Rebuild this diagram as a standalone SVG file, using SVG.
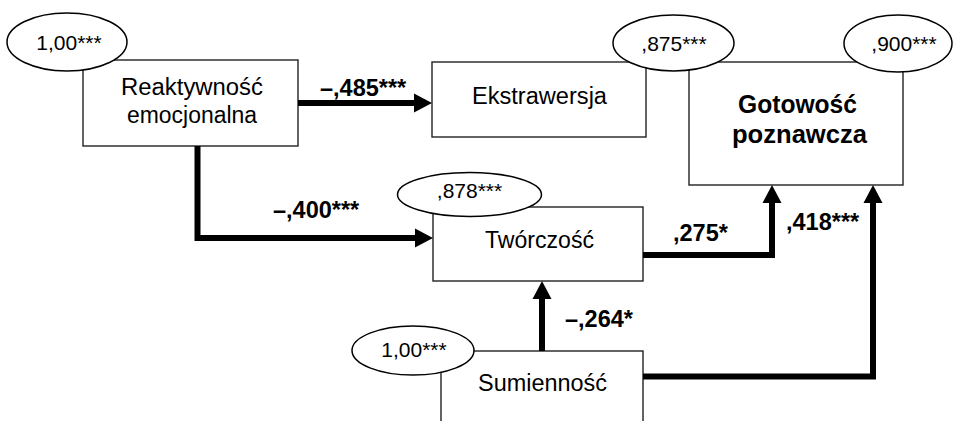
<svg xmlns="http://www.w3.org/2000/svg" width="953" height="421" viewBox="0 0 953 421">
<style>
.box{fill:#fff;stroke:#222;stroke-width:1.4}
.ell{fill:#fff;stroke:#000;stroke-width:1.5}
.t{font-family:"Liberation Sans",Arial,sans-serif;font-size:23.5px;fill:#000;text-anchor:middle}
.e{font-family:"Liberation Sans",Arial,sans-serif;font-size:21px;fill:#000;text-anchor:middle}
.b{font-family:"Liberation Sans",Arial,sans-serif;font-size:25px;font-weight:bold;fill:#000;text-anchor:middle}
.l{font-family:"Liberation Sans",Arial,sans-serif;font-size:23.5px;font-weight:bold;fill:#000}
.c{fill:none;stroke:#000;stroke-width:6;stroke-linejoin:miter}
</style>
<defs>
<marker id="ah" markerUnits="userSpaceOnUse" markerWidth="20" markerHeight="20" viewBox="0 0 18 20" refX="0" refY="10" orient="auto">
<path d="M0,0.5 L18,10 L0,19.5 Z" fill="#000"/>
</marker>
</defs>
<rect width="953" height="421" fill="#fff"/>
<g id="reaktywnosc">
<rect class="box" x="83" y="60" width="215" height="86"/>
<ellipse class="ell" cx="67" cy="42" rx="60" ry="29"/>
<text class="e" x="69" y="50">1,00***</text>
<text class="t" x="192" y="95" textLength="142" lengthAdjust="spacingAndGlyphs">Reaktywność</text>
<text class="t" x="192" y="123" textLength="130" lengthAdjust="spacingAndGlyphs">emocjonalna</text>
</g>
<g id="gotowosc">
<rect class="box" x="689" y="62" width="214" height="123"/>
<ellipse class="ell" cx="898" cy="43.5" rx="54" ry="28.5"/>
<text class="e" x="904" y="51">,900***</text>
<text class="b" x="797.5" y="113" textLength="119" lengthAdjust="spacingAndGlyphs">Gotowość</text>
<text class="b" x="799.5" y="143" textLength="135" lengthAdjust="spacingAndGlyphs">poznawcza</text>
</g>
<g id="ekstrawersja">
<rect class="box" x="432" y="62" width="214" height="75"/>
<ellipse class="ell" cx="673.5" cy="43" rx="60.5" ry="28"/>
<text class="e" x="674" y="51">,875***</text>
<text class="t" x="539.5" y="104" textLength="135" lengthAdjust="spacingAndGlyphs">Ekstrawersja</text>
</g>
<g id="tworczosc">
<rect class="box" x="433" y="207" width="210" height="74"/>
<ellipse class="ell" cx="469.5" cy="194.5" rx="72" ry="22"/>
<text class="e" x="469.5" y="198">,878***</text>
<text class="t" x="539.5" y="248" textLength="109" lengthAdjust="spacingAndGlyphs">Twórczość</text>
</g>
<g id="sumiennosc">
<rect class="box" x="441" y="351" width="202" height="100"/>
<ellipse class="ell" cx="413" cy="350.5" rx="61" ry="24.5"/>
<text class="e" x="414" y="357">1,00***</text>
<text class="t" x="542.5" y="391" textLength="129" lengthAdjust="spacingAndGlyphs">Sumienność</text>
</g>
<g id="connectors">
<path class="c" d="M298,103 H414" marker-end="url(#ah)"/>
<path class="c" d="M197.5,146 V238 H415" marker-end="url(#ah)"/>
<path class="c" d="M643,255 H772 V203" marker-end="url(#ah)"/>
<path class="c" d="M643,376.5 H873 V203" marker-end="url(#ah)"/>
<path class="c" d="M542,351 V299" marker-end="url(#ah)"/>
<text class="l" x="320" y="96">–,485***</text>
<text class="l" x="273" y="218">–,400***</text>
<text class="l" x="673" y="241">,275*</text>
<text class="l" x="786" y="230">,418***</text>
<text class="l" x="565" y="327">–,264*</text>
</g>
</svg>
